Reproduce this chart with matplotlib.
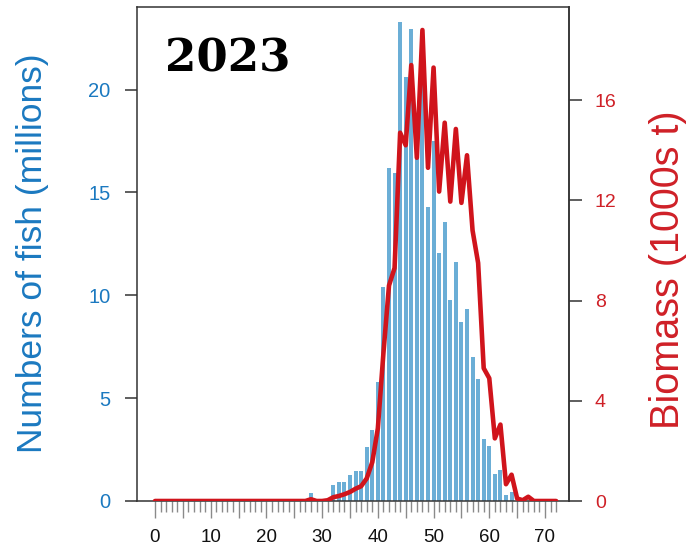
import numpy as np
import matplotlib
matplotlib.use('Agg')
import matplotlib.pyplot as plt
from matplotlib.ticker import FixedLocator

# Datos (talla en cm)
tallas_barras = list(range(28, 65))
numeros_millones = [0.40, 0, 0, 0, 0.79, 0.94, 0.94, 1.25, 1.46, 1.46,
                    2.63, 3.44, 5.79, 10.38, 16.17, 15.94, 23.27, 20.63, 22.95, 17.2,
                    21.6, 14.3, 17.5, 12.08, 13.54, 9.78, 11.63, 8.68, 9.33, 6.98,
                    5.92, 3.0, 2.68, 1.30, 1.49, 0.29, 0.45]

tallas_linea = list(range(0, 73))
biomasa_miles_t = [0, 0, 0, 0, 0, 0, 0, 0, 0, 0,
                   0, 0, 0, 0, 0, 0, 0, 0, 0, 0,
                   0, 0, 0, 0, 0, 0, 0, 0, 0.07, 0.0,
                   0.0, 0.03, 0.15, 0.2, 0.27, 0.36, 0.49, 0.59, 0.9, 1.55,
                   2.9, 5.9, 8.6, 9.3, 14.7, 14.2, 17.4, 13.7, 18.8, 13.3,
                   17.3, 12.35, 15.1, 11.95, 14.85, 11.9, 13.8, 10.8, 9.5, 5.3,
                   4.9, 2.5, 3.05, 0.67, 1.05, 0.1, 0.03, 0.17, 0, 0,
                   0, 0, 0]

ticks_izq = [0, 5, 10, 15, 20]
ticks_der = [0, 4, 8, 12, 16]
ticks_x = [0, 10, 20, 30, 40, 50, 60, 70]
titulo = "2023"

AZUL_BARRA = "#6baed6"
AZUL_TEXTO = "#1b79c0"
ROJO = "#d0141c"
ROJO_TEXTO = "#cf2027"


def main():
    plt.rcParams['font.family'] = ['Liberation Sans', 'DejaVu Sans']
    fig = plt.figure(figsize=(6.9, 5.52), dpi=100)
    ax = fig.add_axes([137 / 690, 51 / 552, (568.5 - 137) / 690, (501 - 6.7) / 552])
    ax2 = ax.twinx()

    ax.bar(tallas_barras, numeros_millones, width=0.72, color=AZUL_BARRA, zorder=2)
    ax2.plot(tallas_linea, biomasa_miles_t, color=ROJO, lw=3.3,
             solid_joinstyle='round', solid_capstyle='round', zorder=3)

    ax.set_xlim(-3.23, 74.22)
    ax.set_ylim(0, 24.03)
    ax2.set_ylim(0, 19.73)

    # eje x: ticks cada 1, largos cada 5, etiquetas cada 10
    ax.xaxis.set_major_locator(FixedLocator(list(range(0, 71, 5))))
    ax.set_xticklabels([str(t) if t in ticks_x else "" for t in range(0, 71, 5)])
    ax.xaxis.set_minor_locator(FixedLocator([t for t in range(0, 73) if t % 5 != 0]))
    ax.tick_params(axis='x', which='major', length=12.5, width=1, color='#8a8a8a',
                   labelsize=13.5, pad=8, labelcolor='#111111')
    ax.tick_params(axis='x', which='minor', length=7.6, width=1, color='#8a8a8a')

    ax.set_yticks(ticks_izq)
    ax.tick_params(axis='y', length=9, width=1.1, color='#333333', labelsize=14.5,
                   labelcolor=AZUL_TEXTO, pad=10)
    ax2.set_yticks(ticks_der)
    ax2.tick_params(axis='y', length=9.4, width=1.1, color='#333333', labelsize=14,
                    labelcolor=ROJO_TEXTO, pad=9.5)

    for s in ax.spines.values():
        s.set_color('#333333')
        s.set_linewidth(1.1)
    for nombre in ['top', 'left', 'bottom']:
        ax2.spines[nombre].set_visible(False)
    ax2.spines['right'].set_color('#333333')
    ax2.spines['right'].set_linewidth(1.1)

    fig.text(33 / 690, 1 - 253 / 552, "Numbers of fish (millions)", rotation=90,
             ha='center', va='center', fontsize=25.5, color=AZUL_TEXTO)
    fig.text(668 / 690, 1 - 270 / 552, "Biomass (1000s t)", rotation=90,
             ha='center', va='center', fontsize=28.5, color=ROJO_TEXTO)

    fig.text(165 / 690, 1 - 71.7 / 552, titulo, fontsize=32.5, fontweight='bold',
             family='DejaVu Serif', ha='left', va='baseline', color='black')

    fig.savefig('out.png', dpi=100)


if __name__ == "__main__":
    main()
